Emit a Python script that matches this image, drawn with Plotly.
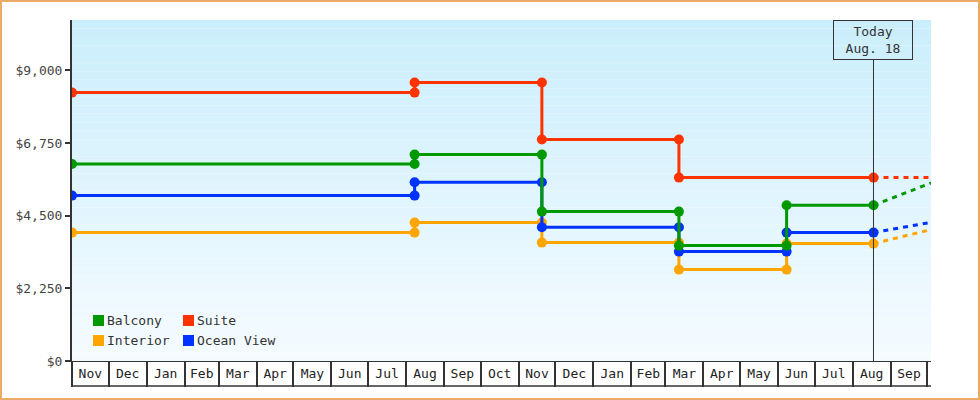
import plotly.graph_objects as go

# price history, cabin categories
change_dates = ["2012-11-01", "2013-08-08", "2013-11-20", "2014-03-12", "2014-06-08"]
today = "2014-08-18"
forecast_date = "2014-10-04"

balcony = [6100, 6390, 4625, 3573, 4820]
suite = [8310, 8620, 6855, 5678, 5678]
interior = [3975, 4285, 3666, 2830, 3635]
ocean_view = [5120, 5533, 4139, 3387, 3975]

# projected price at the end of the chart
forecast = {"Balcony": 5511, "Suite": 5678, "Interior": 4068, "Ocean View": 4294}

y_ticks = [0, 2250, 4500, 6750, 9000]

series = [
    ("Interior", interior, "#FFA500"),
    ("Ocean View", ocean_view, "#0033FF"),
    ("Balcony", balcony, "#009900"),
    ("Suite", suite, "#FF3300"),
]
legend_order = [["Balcony", "Suite"], ["Interior", "Ocean View"]]
colors = {name: c for name, _, c in series}

W, H = 980, 400
ml, mr, mt, mb = 72, 49, 20, 39
pw, ph = W - ml - mr, H - mt - mb
FONT = "DejaVu Sans Mono"


def px_x(p):
    return (p - ml) / pw


def px_y(p):
    return (mt + ph - p) / ph


fig = go.Figure()

for name, values, color in series:
    xs, ys = [change_dates[0]], [values[0]]
    for d, prev, new in zip(change_dates[1:], values[:-1], values[1:]):
        if new == prev:
            continue
        xs += [d, d]
        ys += [prev, new]
    xs.append(today)
    ys.append(values[-1])
    fig.add_trace(go.Scatter(
        x=xs, y=ys, mode="lines+markers", name=name, showlegend=False,
        line=dict(color=color, width=3),
        marker=dict(color=color, size=10, symbol="circle"),
    ))
    fig.add_trace(go.Scatter(
        x=[today, forecast_date], y=[values[-1], forecast[name]], mode="lines",
        name=name, showlegend=False, line=dict(color=color, width=3, dash="5px,5px"),
    ))

# background gradient
top, bottom = (203, 238, 252), (244, 251, 255)
n = 40
for i in range(n):
    t = i / (n - 1)
    c = tuple(round(bottom[k] + (top[k] - bottom[k]) * t) for k in range(3))
    fig.add_shape(type="rect", xref="paper", yref="paper", layer="below",
                  x0=0, x1=1, y0=i / n, y1=(i + 1) / n,
                  fillcolor="rgb(%d,%d,%d)" % c, line_width=0)

# legend, two rows of two
for r, row in enumerate(legend_order):
    for c, name in enumerate(row):
        x0 = 93 + 90 * c
        y0 = 315 + 20 * r
        fig.add_shape(type="rect", xref="paper", yref="paper",
                      x0=px_x(x0), x1=px_x(x0 + 11), y0=px_y(y0 + 11), y1=px_y(y0),
                      fillcolor=colors[name], line_width=0)
        fig.add_annotation(x=px_x(x0 + 12), y=px_y(y0 + 5.5), xref="paper", yref="paper",
                           xanchor="left", yanchor="middle", text=name, showarrow=False,
                           font=dict(family=FONT, size=13, color="#333"))

# bottom edge of the month boxes
fig.add_shape(type="line", xref="paper", yref="paper", x0=0, x1=1,
              y0=-25 / ph, y1=-25 / ph, line=dict(color="#333", width=1.5))

# today marker
fig.add_shape(type="line", xref="x", yref="paper", x0=today, x1=today,
              y0=0, y1=1 - 40 / ph, line=dict(color="#333", width=1))
fig.add_annotation(x=today, xref="x", y=1, yref="paper", yanchor="top",
                   text="Today<br>Aug. 18", showarrow=False,
                   width=76, height=36, borderpad=1, borderwidth=1,
                   bordercolor="#333", bgcolor="rgba(0,0,0,0)",
                   font=dict(family=FONT, size=13, color="#333"))

# outer frame
fig.add_shape(type="rect", xref="paper", yref="paper",
              x0=px_x(1), x1=px_x(W - 1), y0=px_y(H - 1), y1=px_y(1),
              line=dict(color="#EBAA66", width=2))

fig.update_layout(
    width=W, height=H,
    margin=dict(l=ml, r=mr, t=mt, b=mb),
    paper_bgcolor="white", plot_bgcolor="white",
    font=dict(family=FONT, size=13, color="#333"),
    showlegend=False,
)
fig.update_xaxes(
    type="date", range=[change_dates[0], forecast_date],
    showline=True, linecolor="#333", linewidth=1,
    ticks="outside", ticklen=25, tickwidth=1.5, tickcolor="#333",
    dtick="M1", tick0="2012-11-01", tickformat="%b", ticklabelmode="period",
    ticklabelstandoff=-25, showgrid=False, zeroline=False,
    tickfont=dict(family=FONT, size=13, color="#222"),
)
fig.update_yaxes(
    range=[0, 9000 * ph / 290.7], tickmode="array", tickvals=y_ticks,
    ticktext=["$" + format(v, ",") for v in y_ticks],
    showline=True, linecolor="#333", linewidth=2,
    ticks="outside", ticklen=5, tickwidth=2, tickcolor="#333",
    showgrid=False, zeroline=False,
    tickfont=dict(family=FONT, size=13, color="#444"),
)

fig.write_html("out.html", config={"displayModeBar": False},
               post_script="document.body.style.margin='0';")
